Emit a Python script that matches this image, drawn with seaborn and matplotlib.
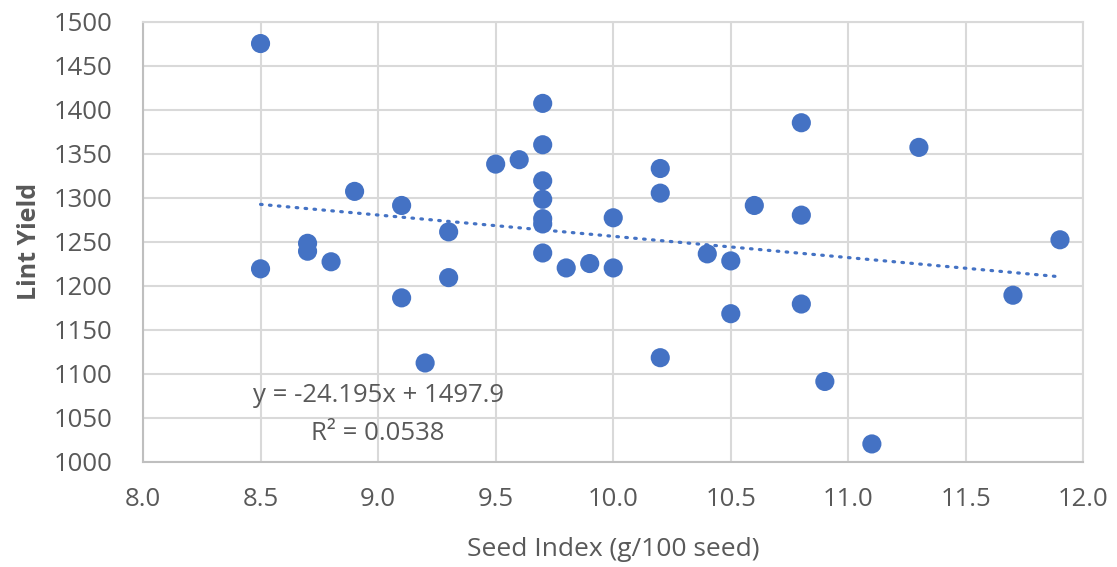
import seaborn as sns
import pandas as pd
import numpy as np
import matplotlib.pyplot as plt

# data
seed_index = [8.5, 8.5, 8.7, 8.7, 8.8, 8.9, 9.1, 9.1, 9.2, 9.3, 9.3, 9.5, 9.6,
              9.7, 9.7, 9.7, 9.7, 9.7, 9.7, 9.7, 9.8, 9.9, 10.0, 10.0,
              10.2, 10.2, 10.2, 10.4, 10.5, 10.5, 10.6, 10.8, 10.8, 10.8,
              10.9, 11.1, 11.3, 11.7, 11.9]
lint_yield = [1475, 1219, 1248, 1239, 1227, 1307, 1291, 1186, 1112, 1261, 1209, 1338, 1343,
              1407, 1360, 1319, 1298, 1276, 1270, 1237, 1220, 1225, 1277, 1220,
              1333, 1305, 1118, 1236, 1228, 1168, 1291, 1385, 1280, 1179,
              1091, 1020, 1357, 1189, 1252]
slope = -24.195
intercept = 1497.9
r_squared = 0.0538
x_ticks = [8.0, 8.5, 9.0, 9.5, 10.0, 10.5, 11.0, 11.5, 12.0]
y_ticks = [1000, 1050, 1100, 1150, 1200, 1250, 1300, 1350, 1400, 1450, 1500]

df = pd.DataFrame({"seed": seed_index, "lint": lint_yield})

sns.set_style("white")
plt.rcParams['font.family'] = ['Open Sans', 'DejaVu Sans']

blue = '#4472C4'
grey_txt = '#595959'
grid_c = '#D9D9D9'

fig = plt.figure(figsize=(11.17, 5.67), dpi=100)
ax = fig.add_axes([0.128, 0.186, 0.842, 0.776])

# trendline from the fitted equation
trend_x = np.array([min(seed_index), max(seed_index)])
trend = pd.DataFrame({"x": trend_x, "y": slope * trend_x + intercept})
sns.lineplot(data=trend, x="x", y="y", ax=ax, color=blue, lw=2.3,
             dashes=False, zorder=2)
ax.lines[-1].set_linestyle((0, (0.5, 2.3)))
ax.lines[-1].set_dash_capstyle('round')

sns.scatterplot(data=df, x="seed", y="lint", ax=ax, color=blue, s=190,
                edgecolor='none', zorder=3)

ax.set_xlim(8.0, 12.0)
ax.set_ylim(1000, 1500)
ax.set_xticks(x_ticks)
ax.set_xticklabels([f"{t:.1f}" for t in x_ticks])
ax.set_yticks(y_ticks)
ax.grid(True, color=grid_c, lw=1.5)
ax.set_axisbelow(True)
for sp in ax.spines.values():
    sp.set_color(grid_c)
    sp.set_linewidth(1.5)
ax.spines['left'].set_color('#BFBFBF')
ax.spines['bottom'].set_color('#BFBFBF')
ax.tick_params(length=0, labelsize=18.5, labelcolor=grey_txt)
ax.tick_params(axis='y', pad=22)
ax.tick_params(axis='x', pad=18)

ax.set_xlabel("Seed Index (g/100 seed)", fontsize=19, color=grey_txt, labelpad=18)
ax.set_ylabel("Lint Yield", fontsize=18, color=grey_txt, fontweight='bold', labelpad=8)

ax.text(9.0, 1075, f"y = {slope}x + {intercept}", ha='center', va='center',
        fontsize=18.5, color=grey_txt)
ax.text(9.0, 1032, f"R² = {r_squared}", ha='center', va='center',
        fontsize=18.5, color=grey_txt)

fig.savefig("out.png", dpi=100)
